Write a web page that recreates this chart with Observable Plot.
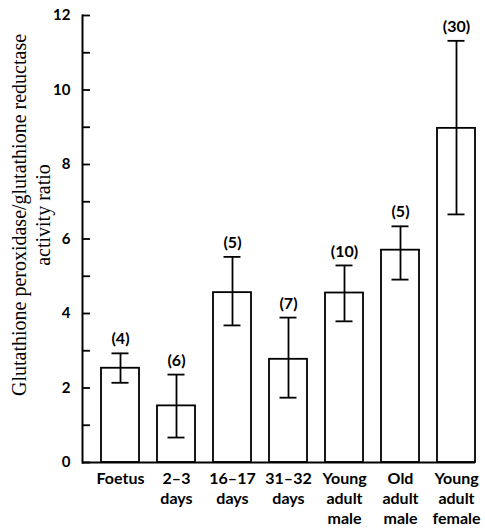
<!DOCTYPE html>
<html>
<head>
<meta charset="utf-8">
<script src="https://cdn.jsdelivr.net/npm/d3@7"></script>
<script src="https://cdn.jsdelivr.net/npm/@observablehq/plot@0.6"></script>
<style>
  html, body { margin: 0; padding: 0; background: #fff; }
</style>
</head>
<body>
<div id="chart"></div>
<script>
const categories = ["Foetus", "2–3\ndays", "16–17\ndays", "31–32\ndays", "Young\nadult\nmale", "Old\nadult\nmale", "Young\nadult\nfemale"];
const means = [2.53, 1.52, 4.56, 2.77, 4.55, 5.70, 8.97];
const errLow = [2.14, 0.67, 3.68, 1.74, 3.79, 4.91, 6.66];
const errHigh = [2.93, 2.36, 5.52, 3.89, 5.29, 6.34, 11.32];
const counts = [4, 6, 5, 7, 10, 5, 30];
const yTicks = [0, 1, 2, 3, 4, 5, 6, 7, 8, 9, 10, 11, 12];
const yTickLabels = ["0", "", "2", "", "4", "", "6", "", "8", "", "10", "", "12"];
const yTitle = "Glutathione peroxidase/glutathione reductase\nactivity ratio";

const data = categories.map((c, i) => ({cat: c, mean: means[i], low: errLow[i], high: errHigh[i], n: counts[i]}));

const chart = Plot.plot({
  width: 485,
  height: 528,
  marginLeft: 82,
  marginRight: 10,
  marginTop: 15,
  marginBottom: 66,
  style: {fontFamily: "Lato, 'DejaVu Sans', sans-serif", fontWeight: "bold", background: "#fff", color: "#000"},
  x: {domain: categories, paddingInner: 0.326, paddingOuter: 0.147, align: 1},
  y: {domain: [0, 12]},
  marks: [
    Plot.barY(data, {x: "cat", y: "mean", fill: "white", stroke: "black", strokeWidth: 1.8}),
    Plot.ruleX(data, {x: "cat", y1: "low", y2: "high", stroke: "black", strokeWidth: 1.8}),
    Plot.tickY(data, {x: "cat", y: "low", insetLeft: 10.5, insetRight: 10.5, stroke: "black", strokeWidth: 1.8}),
    Plot.tickY(data, {x: "cat", y: "high", insetLeft: 10.5, insetRight: 10.5, stroke: "black", strokeWidth: 1.8}),
    Plot.text(data, {x: "cat", y: "high", text: d => `(${d.n})`, dy: -14, fontSize: 16, fontWeight: "bold"}),
    Plot.ruleY([0], {stroke: "black", strokeWidth: 2}),
    Plot.frame({anchor: "left", stroke: "black", strokeWidth: 2}),
    Plot.axisY({ticks: yTicks, tickFormat: (d, i) => yTickLabels[i], tickSize: -8, tickPadding: 20, fontSize: 15, fontWeight: "bold", strokeWidth: 1.8, label: null}),
    Plot.axisX({tickSize: 0, tickPadding: 7, fontSize: 16, fontWeight: "bold", lineHeight: 1.25, label: null}),
    Plot.text([yTitle], {frameAnchor: "left", textAnchor: "middle", rotate: -90, dx: -52, dy: -24, fontFamily: "'Liberation Serif', 'DejaVu Serif', serif", fontWeight: "normal", fontSize: 20, lineHeight: 1.2, text: d => d})
  ]
});
document.getElementById("chart").appendChild(chart);
</script>
</body>
</html>
